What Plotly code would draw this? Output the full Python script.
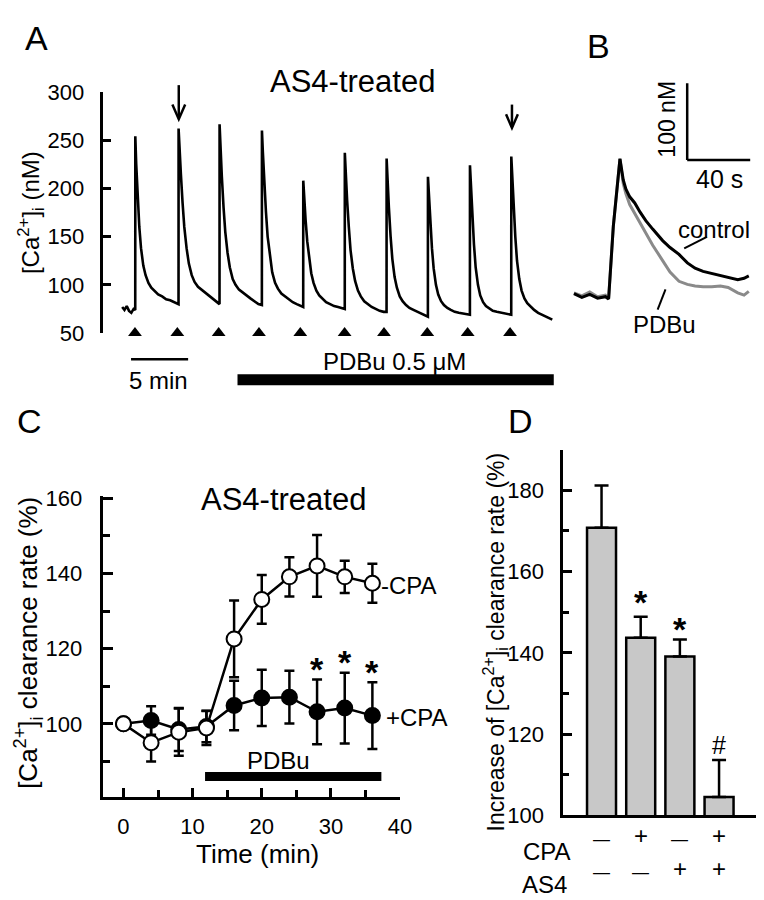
import plotly.graph_objects as go

W, H = 764, 900
FONT = "Liberation Sans, Arial, sans-serif"


def fx(x):
    return x / W


def fy(y):
    return 1 - y / H


# ---------------- Panel A data (time in min, [Ca2+]i in nM) ----------------
start_times = [0.0, 0.2, 0.4, 0.6, 0.8, 1.0]
start_vals = [77, 74, 78, 73, 71, 75]
spike_times = [1.15, 4.94, 8.53, 12.24, 15.86, 19.50, 23.16, 26.78, 30.46, 34.08]
spike_peaks = [254, 262, 266.5, 260, 208, 237, 231, 212, 224, 233]
pre_spike_base = [74, 80, 80, 79, 77, 75, 72, 67, 69, 69]
decay_offsets = [0.08, 0.2, 0.35, 0.5, 0.7, 0.9, 1.15, 1.4, 1.7, 2.0, 2.35, 2.7, 3.05, 3.4]
decay_1 = [225, 190, 160, 138, 120, 110, 102, 97, 93, 90, 88, 85, 84, 82]
decay_2 = [240, 215, 185, 160, 138, 122, 110, 103, 98, 95, 92, 88, 85, 82]
decay_3 = [240, 212, 180, 155, 133, 118, 106, 100, 95, 92, 89, 86, 83, 80]
decay_4 = [238, 208, 176, 150, 128, 113, 102, 96, 91, 88, 85, 82, 80, 78]
decay_5 = [190, 168, 145, 128, 112, 102, 94, 89, 85, 82, 80, 78, 77, 76]
decay_6 = [215, 188, 160, 136, 117, 104, 94, 88, 83, 80, 77, 75, 73, 72]
decay_7 = [208, 180, 150, 127, 108, 97, 88, 83, 79, 76, 74, 72, 70, 68]
decay_8 = [192, 165, 138, 117, 100, 90, 83, 79, 76, 74, 72, 71, 70, 69]
decay_9 = [202, 172, 142, 118, 100, 89, 82, 78, 75, 73, 72, 71, 70, 69]
decay_10 = [210, 180, 150, 125, 106, 94, 86, 81, 77, 74, 71, 69, 67, 65]
decays = [decay_1, decay_2, decay_3, decay_4, decay_5,
          decay_6, decay_7, decay_8, decay_9, decay_10]
end_time, end_val = 37.67, 64
stim_times = [1.12, 4.83, 8.45, 11.98, 15.6, 19.48, 22.93, 26.72, 30.26, 33.97]
a_yticks = [50, 100, 150, 200, 250, 300]

# ---------------- Panel B data (time in s, relative [Ca2+]i in nM) ----------------
b_time = [0, 5, 10, 15, 20, 22, 25, 29.2, 31.3, 33, 35.4, 38.6, 42, 45.6, 50,
          56.3, 61, 66.7, 72, 76.9, 82, 87.5, 93, 97.9, 104, 108, 111]
b_control = [2, -3, 1, -4, -2, -5, 90, 177.6, 150, 138, 128, 120, 108, 97, 86,
             71, 62, 53, 42, 35, 31, 28, 25, 23, 20, 22, 25]
b_pdbu = [3, -1, 4, -2, 0, -4, 90, 177, 145, 132, 118, 106, 93, 80, 65,
          45, 30, 18, 14, 12, 11, 11, 12, 10, 3, 0, 5]

# ---------------- Panel C data ----------------
c_time = [0, 4, 8, 12, 16, 20, 24, 28, 32, 36]
minus_cpa = [100, 95.0, 97.8, 98.9, 122.6, 133.1, 139.1, 142.0, 139.1, 137.4]
minus_cpa_err = [0, 5.0, 6.3, 4.5, 10.2, 6.5, 5.2, 8.2, 4.3, 5.2]
plus_cpa = [100, 100.9, 98.5, 99.3, 104.9, 106.9, 107.1, 103.2, 104.2, 102.2]
plus_cpa_err = [0, 3.8, 5.7, 4.2, 6.6, 7.5, 7.0, 8.6, 9.4, 8.9]
c_star_times = [28, 32, 36]
c_xticks = [0, 10, 20, 30, 40]
c_yticks = [100, 120, 140, 160]

# ---------------- Panel D data ----------------
d_pos = [1, 2, 3, 4]
d_vals = [170.8, 143.7, 139.1, 104.5]
d_err = [10.4, 5.2, 4.2, 9.1]
d_marks = ["", "*", "*", "#"]
d_mark_y = [None, 152.4, 145.9, 117.3]
cpa_signs = ["—", "+", "—", "+"]
as4_signs = ["—", "—", "+", "+"]
d_yticks = [100, 120, 140, 160, 180]

# ---------------- Build figure ----------------
fig = go.Figure()

# Panel A trace
ta, va = list(start_times), list(start_vals)
for st, pk, base, dec in zip(spike_times, spike_peaks, pre_spike_base, decays):
    ta += [st - 0.005, st]
    va += [base, pk]
    ta += [st + o for o in decay_offsets]
    va += dec
ta.append(end_time)
va.append(end_val)

fig.add_trace(go.Scatter(x=ta, y=va, mode="lines", line=dict(color="black", width=2.6),
                         xaxis="x", yaxis="y", hoverinfo="skip"))
fig.add_trace(go.Scatter(x=stim_times, y=[50] * len(stim_times), mode="markers",
                         marker=dict(symbol="triangle-up", size=12, color="black"),
                         cliponaxis=False, xaxis="x", yaxis="y"))

# Panel B traces
fig.add_trace(go.Scatter(x=b_time, y=b_pdbu, mode="lines", line=dict(color="#8a8a8a", width=3),
                         xaxis="x2", yaxis="y2"))
fig.add_trace(go.Scatter(x=b_time, y=b_control, mode="lines", line=dict(color="black", width=3),
                         xaxis="x2", yaxis="y2"))

# Panel C
fig.add_trace(go.Scatter(x=c_time, y=plus_cpa, mode="lines+markers",
                         line=dict(color="black", width=2.5),
                         marker=dict(symbol="circle", size=15, color="black",
                                     line=dict(color="black", width=2)),
                         error_y=dict(type="data", array=plus_cpa_err, color="black",
                                      thickness=2.5, width=5),
                         cliponaxis=False, xaxis="x3", yaxis="y3"))
fig.add_trace(go.Scatter(x=c_time, y=minus_cpa, mode="lines+markers",
                         line=dict(color="black", width=2.5),
                         marker=dict(symbol="circle", size=15, color="white",
                                     line=dict(color="black", width=2)),
                         error_y=dict(type="data", array=minus_cpa_err, color="black",
                                      thickness=2.5, width=5),
                         cliponaxis=False, xaxis="x3", yaxis="y3"))

# Panel D
fig.add_trace(go.Bar(x=d_pos, y=d_vals, width=0.74,
                     marker=dict(color="#c8c8c8", line=dict(color="black", width=2.5)),
                     error_y=dict(type="data", array=d_err, arrayminus=[0] * 4,
                                  symmetric=False, color="black", thickness=2.5, width=7),
                     xaxis="x4", yaxis="y4"))

axis_common = dict(showgrid=False, zeroline=False, linecolor="black", linewidth=2.5,
                   tickcolor="black", tickwidth=2.5,
                   tickfont=dict(family=FONT, size=22, color="black"))

layout = dict(
    width=W, height=H, margin=dict(l=0, r=0, t=0, b=0),
    paper_bgcolor="white", plot_bgcolor="white", showlegend=False,
    font=dict(family=FONT, color="black"),
    # Panel A
    xaxis=dict(domain=[fx(97), fx(560)], range=[(97 - 116) / 11.6, (560 - 116) / 11.6],
               visible=False, anchor="y"),
    yaxis=dict(domain=[fy(322), fy(74)], range=[50, 300], anchor="x", showline=True,
               ticks="inside", ticklen=8, tickvals=a_yticks, ticklabelstandoff=12,
               **axis_common),
    # Panel B
    xaxis2=dict(domain=[fx(570), fx(760)], range=[(570 - 575) / 1.6, (760 - 575) / 1.6],
                visible=False, anchor="y2"),
    yaxis2=dict(domain=[fy(300), fy(60)], range=[(283 - 300) / 0.79, (283 - 60) / 0.79],
                visible=False, anchor="x2"),
    # Panel C
    xaxis3=dict(domain=[fx(97), fx(398.3)], range=[-2.89, 40], anchor="y3", showline=True,
                ticks="inside", ticklen=9, tickvals=c_xticks, ticklabelstandoff=8,
                minor=dict(tickvals=[5, 15, 25, 35], ticks="inside", ticklen=7,
                           tickwidth=2.5, tickcolor="black"),
                **axis_common),
    yaxis3=dict(domain=[fy(799), fy(490)], range=[80.6, 160.5], anchor="x3", showline=True,
                ticks="inside", ticklen=10, tickvals=c_yticks, ticklabelstandoff=14,
                minor=dict(tickvals=[90, 110, 130, 150], ticks="inside", ticklen=7,
                           tickwidth=2.5, tickcolor="black"),
                **axis_common),
    # Panel D
    xaxis4=dict(domain=[fx(564), fx(763)], range=[1 - 39 / 39.8, 1 + 160 / 39.8],
                anchor="y4", showline=True, ticks="", showticklabels=False,
                **axis_common),
    yaxis4=dict(domain=[fy(818), fy(442)], range=[100, 190], anchor="x4", showline=True,
                ticks="inside", ticklen=9, tickvals=d_yticks, ticklabelstandoff=12,
                minor=dict(tickvals=[110, 130, 150, 170], ticks="inside", ticklen=6,
                           tickwidth=2.5, tickcolor="black"),
                **axis_common),
)

annotations = []


def ann(x, y, text, size, xanchor="center", yanchor="middle", angle=0):
    annotations.append(dict(
        x=fx(x), y=fy(y), xref="paper", yref="paper", text=text, showarrow=False,
        textangle=angle, xanchor=xanchor, yanchor=yanchor,
        font=dict(family=FONT, size=size, color="black")))


# Panel letters
ann(29, 18, "A", 34)
ann(600, 27, "B", 34)
ann(22, 412, "C", 34)
ann(521, 412, "D", 34)

# Panel A texts
ann(350, 63, "AS4-treated", 31)
ann(24, 198, "[Ca<sup>2+</sup>]<sub>i</sub> (nM)", 24, angle=-90)
ann(153, 371, "5 min", 24)
ann(393, 351, "PDBu 0.5 μM", 24)

# Panel B texts
ann(670, 102, "100 nM", 23, angle=-90)
ann(723, 164, "40 s", 25)
ann(717, 215, "control", 24)
ann(667, 313, "PDBu", 24)

# Panel C texts
ann(279.5, 493, "AS4-treated", 31)
ann(275, 762, "PDBu", 24)
ann(253, 858, "Time (min)", 26)
ann(21, 641, "[Ca<sup>2+</sup>]<sub>i</sub> clearance rate (%)", 26, angle=-90)
ann(377, 582, "-CPA", 24, xanchor="left")
ann(382, 717, "+CPA", 24, xanchor="left")
for t, pk, e in zip(c_time, plus_cpa, plus_cpa_err):
    if t in c_star_times:
        annotations.append(dict(x=t, y=pk + e + 2.0, xref="x3", yref="y3", text="<b>*</b>",
                                showarrow=False, yanchor="bottom", yshift=-18,
                                font=dict(family=FONT, size=34, color="black")))

# Panel D texts
ann(495, 640, "Increase of [Ca<sup>2+</sup>]<sub>i</sub> clearance rate (%)", 23, angle=-90)
for p, m, my in zip(d_pos, d_marks, d_mark_y):
    if m:
        annotations.append(dict(x=p, y=my, xref="x4", yref="y4",
                                text="<b>*</b>" if m == "*" else m, showarrow=False,
                                yanchor="middle", yshift=0,
                                font=dict(family=FONT, size=34 if m == "*" else 25,
                                          color="black")))
ann(547.5, 855, "CPA", 24)
ann(545, 889, "AS4", 24)
for p, s1, s2 in zip(d_pos, cpa_signs, as4_signs):
    annotations.append(dict(x=p, y=fy(855), xref="x4", yref="paper", text=s1,
                            showarrow=False, font=dict(family=FONT, size=24 if s1 == "+" else 17,
                                                       color="black")))
    annotations.append(dict(x=p, y=fy(889), xref="x4", yref="paper", text=s2,
                            showarrow=False, font=dict(family=FONT, size=24 if s2 == "+" else 17,
                                                       color="black")))

layout["annotations"] = annotations

shapes = []


def pline(x0, y0, x1, y1, w=2.5):
    shapes.append(dict(type="line", xref="paper", yref="paper", x0=fx(x0), y0=fy(y0),
                       x1=fx(x1), y1=fy(y1), line=dict(color="black", width=w)))


def ppath(pts, w=2.5):
    d = "M " + " L ".join(f"{fx(x):.5f},{fy(y):.5f}" for x, y in pts)
    shapes.append(dict(type="path", xref="paper", yref="paper", path=d,
                       line=dict(color="black", width=w)))


# Arrows in A
pline(173.5, 67, 173.5, 101)
ppath([(167, 87), (173.5, 102), (180, 87)])
pline(512, 87, 512, 110)
ppath([(506, 97), (512, 111), (518, 97)])

# Scale bar & PDBu bar in A (data x, paper y)
shapes.append(dict(type="line", xref="x", yref="paper", x0=(125 - 116) / 11.6,
                   x1=(125 - 116) / 11.6 + 5, y0=fy(349), y1=fy(349),
                   line=dict(color="black", width=2.5)))
shapes.append(dict(type="line", xref="x", yref="paper", x0=10.1, x1=37.8,
                   y0=fy(370), y1=fy(370), line=dict(color="black", width=11)))

# Scale bar in B (100 nM, 40 s)
shapes.append(dict(type="line", xref="x2", yref="y2", x0=71.9, x1=71.9, y0=176, y1=276,
                   line=dict(color="black", width=2.5)))
shapes.append(dict(type="line", xref="x2", yref="y2", x0=71.9, x1=111.9, y0=176, y1=176,
                   line=dict(color="black", width=2.5)))
# leader lines in B
pline(687, 235, 710, 223, 2)
pline(660, 298, 668, 277, 2)

# PDBu bar in C
shapes.append(dict(type="line", xref="x3", yref="y3", x0=11.8, x1=37.3, y0=86.0, y1=86.0,
                   line=dict(color="black", width=9)))

layout["shapes"] = shapes
fig.update_layout(**layout)

fig.write_html("out.html")
